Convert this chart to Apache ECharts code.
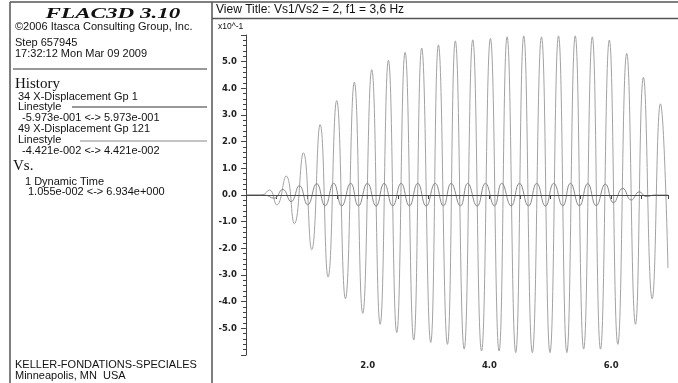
<!DOCTYPE html>
<html>
<head>
<meta charset="utf-8">
<title>FLAC3D 3.10 history plot</title>
<script src="https://cdn.jsdelivr.net/npm/echarts@6/dist/echarts.min.js"></script>
<style>
  html, body { margin: 0; padding: 0; background: #fff; }
  #chart { width: 678px; height: 383px; }
</style>
</head>
<body>
<div id="chart"></div>
<script>
// History 34: X-Displacement Gp 1 (plotted in units of 10^-1), peaks and troughs
const time34 = [
  0.011, 0.26, 0.385, 0.505, 0.66, 0.795, 0.943, 1.08, 1.218, 1.349,
  1.49, 1.634, 1.78, 1.918, 2.066, 2.204, 2.34, 2.477, 2.614, 2.756,
  2.887, 3.035, 3.162, 3.31, 3.44, 3.585, 3.726, 3.87, 4.016, 4.158,
  4.29, 4.432, 4.564, 4.705, 4.855, 4.995, 5.135, 5.272, 5.41, 5.548,
  5.69, 5.825, 5.97, 6.11, 6.256, 6.40, 6.53, 6.674, 6.81, 6.934
];
const disp34 = [
  0, 0, 0.19, -0.37, 0.71, -1.08, 1.58, -2.05, 2.64, -3.08,
  3.54, -3.89, 4.23, -4.44, 4.70, -4.85, 5.05, -5.16, 5.35, -5.44,
  5.51, -5.53, 5.63, -5.60, 5.78, -5.78, 5.82, -5.85, 5.87, -5.85,
  5.93, -5.91, 5.97, -5.91, 5.93, -5.91, 5.97, -5.91, 5.97, -5.78,
  5.93, -5.78, 5.81, -5.60, 5.31, -4.85, 4.41, -3.89, 3.42, -2.74
];

// History 49: X-Displacement Gp 121
const time49 = [
  0.011, 0.30, 0.46, 0.603, 0.741, 0.878, 1.014, 1.162, 1.30, 1.441,
  1.573, 1.721, 1.847, 1.995, 2.138, 2.270, 2.411, 2.549, 2.685, 2.822,
  2.960, 3.108, 3.244, 3.371, 3.524, 3.643, 3.798, 3.934, 4.082, 4.202,
  4.357, 4.493, 4.641, 4.777, 4.92, 5.057, 5.205, 5.331, 5.479, 5.615,
  5.754, 5.906, 6.038, 6.191, 6.329, 6.465, 6.575, 6.72, 6.934
];
const disp49 = [
  0, 0, -0.12, 0.21, -0.25, 0.35, -0.37, 0.43, -0.41, 0.44,
  -0.41, 0.44, -0.41, 0.44, -0.42, 0.44, -0.41, 0.44, -0.41, 0.44,
  -0.42, 0.44, -0.41, 0.44, -0.41, 0.44, -0.42, 0.44, -0.41, 0.44,
  -0.41, 0.44, -0.41, 0.44, -0.42, 0.44, -0.41, 0.44, -0.41, 0.43,
  -0.40, 0.41, -0.29, 0.25, -0.19, 0.12, -0.06, 0, 0
];

const xLabelValues = [2, 4, 6];

const pairs = (xs, ys) => xs.map((x, i) => [x, ys[i]]);

const sans = "'Liberation Sans', Arial, sans-serif";
const serif = "'Liberation Serif', 'Times New Roman', serif";
const ink = "#111";

const panelText = (text, x, y, size, family, extra) => ({
  type: "text",
  x: x,
  y: y,
  silent: true,
  style: Object.assign({
    text: text,
    fontSize: size,
    fontFamily: family,
    fill: ink,
    textVerticalAlign: "middle"
  }, extra || {})
});

const rule = (x1, y1, x2, y2, color, width) => ({
  type: "line",
  silent: true,
  shape: { x1: x1, y1: y1, x2: x2, y2: y2 },
  style: { stroke: color, lineWidth: width }
});

const chart = echarts.init(document.getElementById("chart"));

chart.setOption({
  animation: false,
  backgroundColor: "#fff",
  grid: { left: 246, right: 10, top: 35, bottom: 28 },
  xAxis: {
    type: "value",
    min: 0,
    max: 6.934,
    interval: 0.5,
    splitLine: { show: false },
    axisLine: { lineStyle: { color: "#444", width: 1 } },
    axisTick: { length: 4, lineStyle: { color: "#444" } },
    axisLabel: {
      margin: 6,
      color: "#222",
      fontSize: 8.5,
      fontWeight: "bold",
      fontFamily: "'DejaVu Sans', sans-serif",
      formatter: (v) => (xLabelValues.some((t) => Math.abs(t - v) < 1e-6) ? v.toFixed(1) : "")
    }
  },
  yAxis: {
    type: "value",
    min: -6,
    max: 6,
    interval: 1,
    splitLine: { show: false },
    axisLine: { lineStyle: { color: "#444", width: 1 } },
    axisTick: { length: 5, lineStyle: { color: "#444" } },
    minorTick: { show: true, splitNumber: 5, length: 3, lineStyle: { color: "#444" } },
    axisLabel: {
      margin: 9,
      color: "#222",
      fontSize: 8.5,
      fontWeight: "bold",
      fontFamily: "'DejaVu Sans', sans-serif",
      showMinLabel: false,
      showMaxLabel: false,
      formatter: (v) => v.toFixed(1)
    }
  },
  series: [
    {
      name: "34 X-Displacement Gp 1",
      type: "line",
      data: pairs(time34, disp34),
      smooth: 0.5,
      showSymbol: false,
      lineStyle: { color: "#a2a2a2", width: 1 }
    },
    {
      name: "49 X-Displacement Gp 121",
      type: "line",
      data: pairs(time49, disp49),
      smooth: 0.5,
      showSymbol: false,
      lineStyle: { color: "#8a8a8a", width: 1 },
      markLine: {
        silent: true,
        symbol: ["none", "none"],
        label: { show: false },
        lineStyle: { color: "#4a4a4a", type: "solid", width: 1.2 },
        data: [{ yAxis: 0 }]
      }
    }
  ],
  graphic: [
    // frames
    rule(10, 2, 678, 2, "#555", 1.5),
    rule(10, 2, 10, 383, "#555", 1.5),
    rule(212, 2, 212, 383, "#555", 1.5),
    rule(212, 18.5, 678, 18.5, "#555", 1.5),
    rule(13, 69, 207, 69, "#333", 1),
    rule(72, 107, 207, 107, "#333", 1),
    rule(80, 141, 207, 141, "#888", 1),

    {
      type: "text",
      x: 113,
      y: 14,
      scaleX: 1.65,
      silent: true,
      style: {
        text: "FLAC3D 3.10",
        fontSize: 14,
        fontFamily: serif,
        fontWeight: "bold",
        fontStyle: "italic",
        fill: ink,
        textAlign: "center",
        textVerticalAlign: "middle"
      }
    },
    panelText("©2006 Itasca Consulting Group, Inc.", 15, 27, 11, sans),
    panelText("Step 657945", 15, 43, 11, sans),
    panelText("17:32:12 Mon Mar 09 2009", 15, 54, 11, sans),
    panelText("History", 15, 84, 15, serif),
    panelText("34 X-Displacement Gp 1", 18, 97, 11, sans),
    panelText("Linestyle", 18, 107, 11, sans),
    panelText("-5.973e-001 <-> 5.973e-001", 22, 118, 11, sans),
    panelText("49 X-Displacement Gp 121", 18, 129, 11, sans),
    panelText("Linestyle", 18, 140, 11, sans),
    panelText("-4.421e-002 <-> 4.421e-002", 22, 151, 11, sans),
    panelText("Vs.", 13, 166, 15, serif),
    panelText("1 Dynamic Time", 25, 182, 11, sans),
    panelText("1.055e-002 <-> 6.934e+000", 28, 192, 11, sans),
    panelText("KELLER-FONDATIONS-SPECIALES", 15, 365, 11, sans),
    panelText("Minneapolis, MN  USA", 15, 376, 11, sans),

    panelText("View Title: Vs1/Vs2 = 2, f1 = 3,6 Hz", 216, 10, 12, sans),
    panelText("x10^-1", 218, 27, 8.5, sans)
  ]
});
</script>
</body>
</html>
